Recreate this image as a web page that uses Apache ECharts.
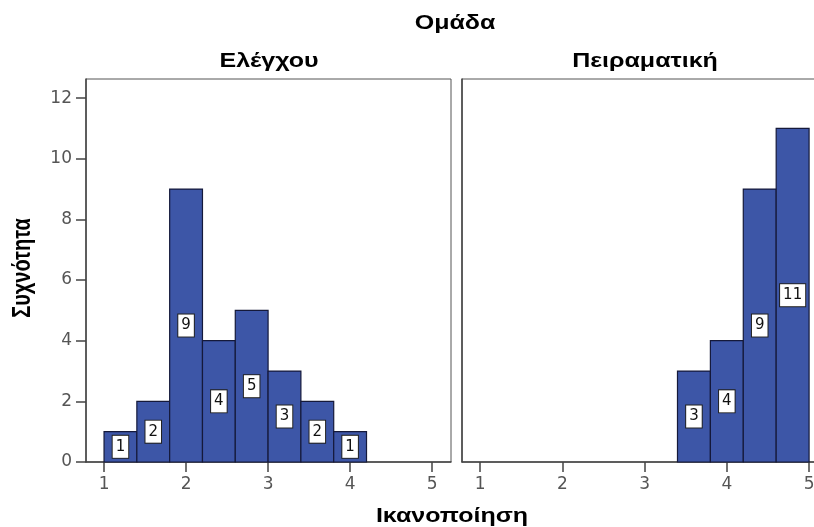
<!DOCTYPE html>
<html>
<head>
<meta charset="utf-8">
<script src="https://cdn.jsdelivr.net/npm/echarts@6/dist/echarts.min.js"></script>
<style>html,body{margin:0;padding:0;background:#fff;overflow:hidden;}#c{width:840px;height:527px;}</style>
</head>
<body>
<div id="c"></div>
<script>
// ---- data ----
const binLower = [1.0, 1.4, 1.8, 2.2, 2.6, 3.0, 3.4, 3.8, 4.2, 4.6];
const binUpper = [1.4, 1.8, 2.2, 2.6, 3.0, 3.4, 3.8, 4.2, 4.6, 5.0];
const controlCounts = [1, 2, 9, 4, 5, 3, 2, 1, 0, 0];
const experimentalCounts = [0, 0, 0, 0, 0, 0, 3, 4, 9, 11];
const panelNames = ['Ελέγχου', 'Πειραματική'];
const xTicks = [1, 2, 3, 4, 5];
const yTicks = [0, 2, 4, 6, 8, 10, 12];
const groupTitle = 'Ομάδα';
const yName = 'Συχνότητα';
const xName = 'Ικανοποίηση';

const FONT = '"Liberation Sans", Arial, sans-serif';
const WFONT = '"DejaVu Sans", sans-serif';
const BAR = '#3d56a7';
const SX = 1.25;

function renderItem(params, api) {
  const x0 = api.value(0), x1 = api.value(1), v = api.value(2);
  if (!v) return null;
  const p0 = api.coord([x0, 0]);
  const p1 = api.coord([x1, v]);
  return {
    type: 'rect',
    shape: { x: p0[0], y: p1[1], width: p1[0] - p0[0], height: p0[1] - p1[1] },
    style: { fill: BAR, stroke: '#15193a', lineWidth: 1.2 },
    textContent: {
      style: {
        text: String(v), fill: '#111', fontSize: 15, fontFamily: WFONT,
        backgroundColor: '#fff', borderColor: '#222', borderWidth: 1,
        padding: [4, 3, 3, 3]
      }
    },
    textConfig: { position: 'inside' }
  };
}

function makeData(counts) {
  return binLower.map((l, i) => [l, binUpper[i], counts[i]]);
}

const grids = [
  { left: 86, top: 79, width: 365, bottom: 65 },
  { left: 462, top: 79, width: 366, bottom: 65 }
].map(g => Object.assign(g, { show: true, borderColor: '#555', borderWidth: 1, backgroundColor: '#fff', containLabel: false }));

const xAxes = [0, 1].map(i => ({
  type: 'value', gridIndex: i, min: 0.78, max: 5.23,
  axisLine: { show: true, onZero: false, lineStyle: { color: '#444', width: 1.5 } },
  axisTick: { show: true, length: 10, inside: false, customValues: xTicks, lineStyle: { color: '#444', width: 1.5 } },
  axisLabel: { show: true, customValues: xTicks, margin: 14, fontSize: 17, color: '#555', fontFamily: WFONT },
  splitLine: { show: false }
}));

const yAxes = [0, 1].map(i => ({
  type: 'value', gridIndex: i, min: 0, max: 12.63,
  axisLine: { show: true, lineStyle: { color: '#444', width: 1.5 } },
  axisTick: { show: i === 0, length: 10, customValues: yTicks, lineStyle: { color: '#444', width: 1.5 } },
  axisLabel: { show: i === 0, customValues: yTicks, margin: 14, fontSize: 17, color: '#555', fontFamily: WFONT },
  splitLine: { show: false }
}));

function hText(text, x, y, size) {
  return { type: 'text', x: x, y: y, scaleX: SX,
    style: { text: text, font: 'bold ' + size + 'px ' + FONT, fill: '#000', textAlign: 'center', textVerticalAlign: 'middle' } };
}

const option = {
  backgroundColor: '#fff',
  animation: false,
  grid: grids,
  xAxis: xAxes,
  yAxis: yAxes,
  series: [controlCounts, experimentalCounts].map((c, i) => ({
    type: 'custom', xAxisIndex: i, yAxisIndex: i,
    renderItem: renderItem, encode: { x: [0, 1], y: 2 },
    data: makeData(c)
  })),
  graphic: [
    hText(groupTitle, 455, 23, 20),
    hText(panelNames[0], 269, 61, 20),
    hText(panelNames[1], 645, 61, 20),
    { type: 'text', x: 23, y: 268, rotation: Math.PI / 2, scaleY: SX,
      style: { text: yName, font: 'bold 20px ' + FONT, fill: '#000', textAlign: 'center', textVerticalAlign: 'middle' } },
    hText(xName, 452, 516, 20)
  ]
};

const chart = echarts.init(document.getElementById('c'), null, { renderer: 'canvas' });
chart.setOption(option);
</script>
</body>
</html>
